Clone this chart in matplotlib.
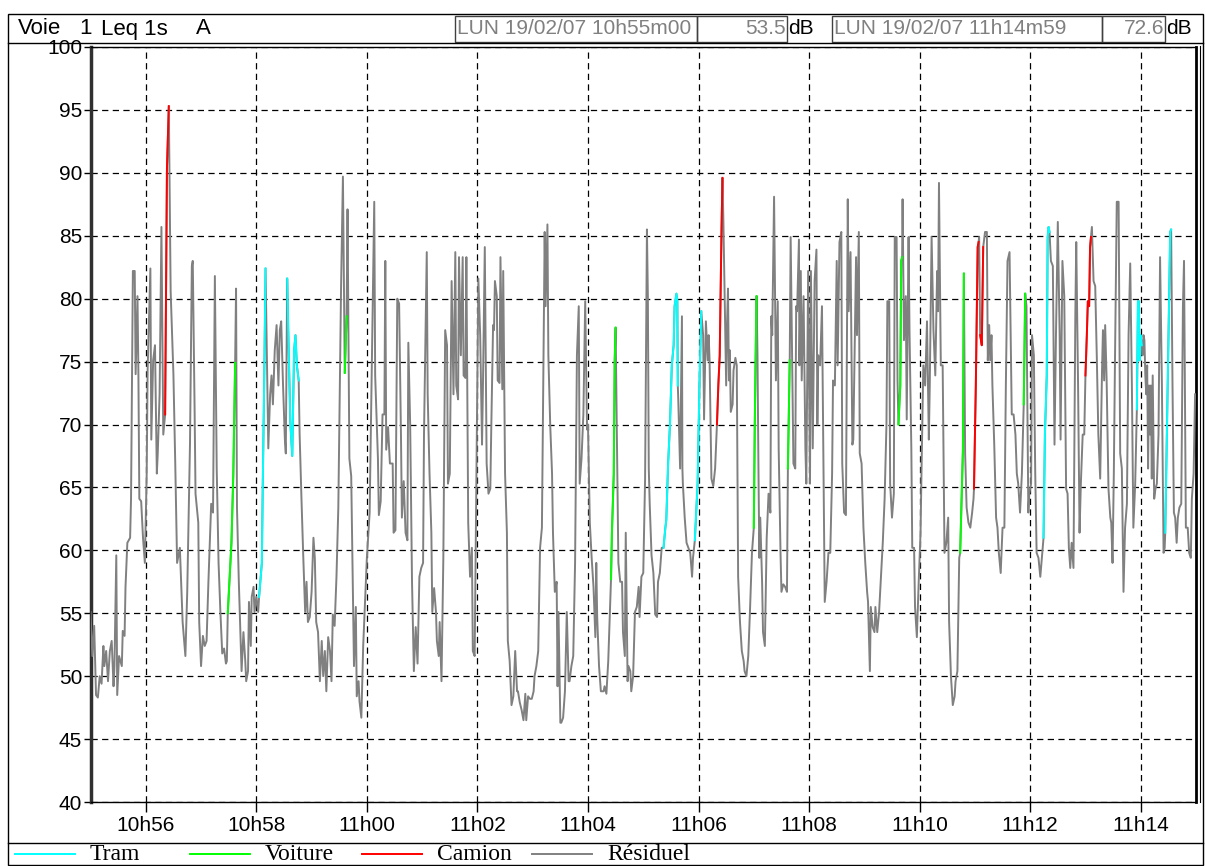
import numpy as np
import matplotlib.pyplot as plt
from matplotlib.lines import Line2D
from matplotlib.patches import Rectangle

plt.rcParams['font.family'] = ['Liberation Sans', 'DejaVu Sans']

W, H = 1206, 866

# Leq 1s (dB(A)), temps en secondes depuis 10h55m00
t_s = [0, 2, 4, 6, 8, 10, 12, 14, 15, 17, 19, 21, 23, 25, 26, 28, 29, 31, 34, 35,
       37, 38, 40, 43, 44, 46, 48, 49, 51, 52, 53, 55, 57, 59, 61, 62, 65, 66, 68, 70,
       72, 73, 75, 77, 79, 81, 83, 85, 87, 90, 92, 94, 97, 100, 103, 105, 108, 110, 111, 113,
       114, 117, 118, 120, 122, 124, 126, 128, 131, 133, 135, 137, 139, 141, 143, 145, 147, 148, 149, 153,
       155, 157, 158, 159, 161, 164, 166, 168, 169, 171, 172, 174, 175, 177, 178, 180, 182, 183, 186, 187,
       188.5, 190, 193, 195, 196.5, 198, 200, 202, 204, 205.5, 207, 209, 211, 212, 213.5, 215, 217, 219, 221, 222.5,
       224, 226, 227, 229, 231, 233, 234.5, 236, 238, 240, 242, 243.5, 245, 247, 249, 251, 252.6, 254.4, 256, 258,
       260, 261.6, 263, 265, 267, 269, 272, 274, 276, 278, 279, 281, 283, 285, 286, 288, 289, 291, 292, 294,
       296, 298, 300, 302, 303, 305, 308, 309, 312, 313, 315, 317, 319, 320, 321, 323, 325, 328, 329, 331,
       333, 335, 337, 338, 340, 342, 344, 345, 347, 349, 351, 353, 355, 357, 359, 361, 362, 365, 366, 368,
       370, 371, 373, 375, 376, 378, 379, 381, 383, 385, 387, 388, 390, 392, 394, 396, 397, 399, 400, 402,
       404, 405, 407, 408, 410, 412, 414, 415, 417, 419, 421, 423, 425, 426, 428, 430, 432, 434, 435, 437,
       438, 439, 441, 442, 444, 445, 447, 448, 450, 452, 453, 455, 457, 459, 461, 463, 464, 466, 468, 470,
       472, 473, 475, 477, 479, 481, 482, 484, 486, 488, 490, 492, 493, 494, 496, 497, 499, 501, 502, 504,
       506, 507, 508, 510, 511, 513, 515, 517, 519, 520, 522, 524, 526, 528, 530, 531, 533, 535, 537, 539,
       540, 542, 544, 546, 548, 549, 550, 552, 554, 557, 558, 560, 562, 565, 566, 568, 569, 570, 573, 575,
       577, 578, 580, 581, 583, 584, 586, 587, 589, 591, 593, 595, 596, 598, 600, 602, 604, 605, 606, 607,
       609, 611, 613, 615, 616, 618, 620, 622, 624, 625, 627, 629, 631, 633, 634, 636, 637, 637.5, 638, 640,
       642, 642.5, 643, 645, 647, 649, 651, 653, 654, 656, 659, 661, 663, 665, 666, 668, 670, 671, 672, 674,
       676, 678, 680, 681.5, 683, 685, 686, 687, 689, 690, 691, 692, 693, 694, 695, 697, 698, 700, 701.5, 703,
       705, 707, 709, 710, 712, 714, 716, 718, 720, 721, 722, 723, 724, 725, 726, 727, 729, 730, 732, 734,
       736, 738, 739, 740, 742, 744, 746, 747, 749, 750, 752, 754, 756, 757, 759, 760, 763, 765, 766, 767,
       769, 769.5, 771, 772, 774, 776, 777, 779, 781, 782, 784, 786, 788, 789, 790, 792, 794, 795.5, 797, 799,
       801, 803, 805, 806, 808, 810, 811, 813, 815, 816, 818, 820, 822, 823, 825, 827, 828, 831, 832, 834,
       835, 837, 839, 841, 843, 844, 846, 847, 849, 851, 852, 854, 856, 858, 860, 862, 864, 865, 867, 868,
       870, 872, 873, 875, 876, 877, 879, 880, 881, 881.5, 883, 885, 886, 888, 889, 891, 892, 894, 895, 897,
       899, 901, 902, 904, 906, 908, 910, 911, 913, 915, 917, 919, 920, 921, 923, 925, 927, 929, 931, 932,
       934, 936, 938, 939, 941, 943, 944, 946, 947, 948, 949.4, 951, 953, 955, 957, 958.5, 959, 961, 963, 964,
       964.6, 965.7, 967.5, 969, 971, 973, 974, 975.5, 976.6, 978, 979, 981, 983, 984.5, 986, 988, 990, 992, 993.6, 995.4,
       997.6, 1000, 1002, 1004, 1005.5, 1007, 1009, 1011, 1013, 1014, 1014.6, 1016, 1018, 1019, 1021, 1022, 1024, 1025.5, 1027, 1029,
       1031, 1032.7, 1034.5, 1036, 1038, 1039, 1040, 1041, 1042.5, 1044.6, 1046.4, 1048, 1050, 1052, 1053, 1055, 1057, 1059, 1060.6, 1062,
       1063.5, 1065, 1067, 1069, 1070, 1072, 1073.6, 1075, 1077, 1078.7, 1080, 1081.5, 1082.6, 1084, 1085, 1086, 1087, 1088.8, 1090.6, 1092.4,
       1094, 1096, 1098, 1099, 1100.3, 1101.4, 1103, 1105, 1107, 1108, 1109.4, 1110.8, 1112, 1114, 1116, 1117.7, 1119.5, 1121.3, 1123, 1125,
       1126.8, 1128.6, 1130.4, 1132, 1134, 1135.8, 1137, 1138, 1138.7, 1139.8, 1141.2, 1142, 1143, 1144, 1145, 1146, 1147, 1148, 1149, 1150,
       1151, 1152, 1153, 1154.6, 1156, 1157.5, 1159.3, 1161, 1163, 1164.8, 1166, 1166.6, 1168.4, 1170, 1172, 1173, 1174.5, 1176, 1177.4, 1179,
       1180.3, 1182, 1184, 1185.8, 1187, 1189, 1191, 1192.6, 1194.4, 1195.5, 1197.4, 1199]

leq = [55.1, 51.6, 54, 48.5, 48.3, 50, 49.4, 52.4, 50.8, 52, 49.6, 52, 52.8, 49.2, 50.8, 59.6, 48.5, 51.6, 50.8, 53.6,
       53.2, 57.1, 60.6, 61, 64.1, 82.2, 82.2, 74, 80.2, 74, 64.1, 63.9, 61, 59, 66.1, 74.3, 82.4, 68.8, 75.1, 76.3,
       66.1, 67.7, 72.4, 85.7, 69.2, 70.8, 90.4, 95.3, 80.6, 74, 66.9, 59, 60.2, 54.3, 51.6, 56.7, 68.5, 82.6, 83, 71.2,
       64.5, 62.2, 54.3, 50.8, 53.2, 52.4, 52.8, 57.5, 63.7, 63, 81.8, 66.5, 59, 55.1, 51.8, 52.2, 51, 51.2, 55, 60.6,
       66, 74.9, 80.8, 63.4, 57.5, 50.4, 53.5, 51.2, 49.6, 50.4, 55.9, 52.4, 56.3, 57.1, 55.1, 56.3, 55.1, 56.3, 59, 65.3,
       73.2, 82.4, 68.1, 72.4, 73.9, 71.6, 75.9, 77.9, 73.1, 77.5, 78.2, 73.1, 68.8, 67.7, 81.6, 76.3, 70, 67.5, 75.9, 77.1,
       74.7, 73.5, 69.2, 64.1, 59.4, 55.1, 57.5, 54.3, 54.7, 56.7, 61, 59.4, 54.3, 53.5, 49.6, 52.8, 50, 52, 48.8, 53.1,
       52, 49.6, 54.9, 54, 57.9, 63.4, 81, 89.7, 74.1, 78.6, 87.1, 67.3, 65.9, 55.7, 50.8, 55.5, 48.4, 49.6, 48, 46.7,
       52.4, 55.9, 59.4, 61.8, 63, 73.1, 87.7, 73.9, 67.3, 62.8, 63.9, 70.8, 70.8, 83, 68, 69.8, 66.9, 66.9, 61.4, 61.6,
       80, 79.6, 69.2, 62.6, 65.5, 61.4, 60.8, 76.5, 70, 57.5, 50.4, 53.9, 51, 57.9, 58.6, 59, 69.2, 83.7, 72.4, 66.1,
       61.4, 55.1, 57, 55.1, 52.8, 51.6, 54.3, 49.6, 59.4, 77.5, 76.3, 65.3, 66.1, 81.4, 72.4, 83.7, 73.1, 72, 83.3, 75.5,
       83.3, 73.9, 73.7, 83.3, 62.2, 57.9, 60.2, 52, 51.6, 66.5, 81.6, 77.1, 68.4, 73.1, 84.1, 66.9, 64.5, 64.9, 69.6, 77.9,
       77.5, 81.4, 80.2, 73.5, 73.3, 83.3, 72.8, 82.2, 66.1, 61.4, 52.8, 51.2, 47.7, 48.4, 52, 48.8, 48.8, 47.9, 47.3, 46.5,
       48.6, 46.5, 48.4, 48.2, 48.2, 48.8, 50, 50.8, 52, 60.2, 61.8, 77.1, 85.3, 79.4, 85.9, 75.5, 70, 66.1, 61.4, 56.7,
       57.5, 49.2, 55.1, 46.3, 46.3, 46.7, 48.8, 55.1, 49.6, 49.6, 50.8, 51.6, 59, 75.5, 79.4, 65.3, 67.3, 70.8, 79.8, 69.6,
       70, 62.2, 59.4, 57.1, 53.1, 59, 54.7, 50.8, 48.8, 48.8, 49.2, 48.6, 51.2, 57.7, 61.4, 66.1, 75.1, 77.7, 59, 57.5,
       57.5, 53.5, 51.6, 61.4, 49.6, 50.8, 50.4, 48.8, 50, 55.1, 55.5, 57.1, 54.7, 57.9, 58.2, 65.7, 85.5, 80.2, 66.5, 63.7,
       59.6, 58.2, 54.9, 54.7, 57.5, 58.2, 60.2, 60.2, 61.8, 62.4, 66.9, 70, 74.7, 76.3, 79.4, 80.4, 79.8, 73.1, 72, 66.5,
       78.6, 66.5, 65.3, 62.6, 60.6, 60.2, 59.8, 57.9, 59.4, 60.8, 65.3, 73.1, 79, 77.1, 70.4, 78.2, 75.1, 77.1, 75.1, 65.7,
       65.1, 66.5, 70, 73.1, 75.5, 85.7, 89.6, 86.1, 77.1, 73.1, 78.2, 80.8, 73.5, 75.9, 71, 71.6, 74.3, 75.3, 74.7, 57.9,
       54.3, 52, 51.2, 50.4, 50, 51.6, 55.5, 59.8, 61.8, 69.6, 75.5, 80.2, 75.5, 66.9, 59.4, 62.6, 57.5, 53.5, 52.4, 61,
       64.5, 63, 78.6, 77.1, 88.1, 73.5, 79.8, 68.1, 59.8, 56.7, 57.3, 57.1, 56.7, 66.5, 75.1, 84.9, 66.9, 66.5, 79.4, 79,
       84.7, 74.7, 82.2, 73.5, 80.2, 68.1, 65.3, 82.2, 65.3, 82.2, 68.1, 81.4, 83.9, 70, 75.5, 74.7, 79.4, 67.3, 55.9, 57.5,
       59.8, 59.8, 66.1, 73.5, 73.1, 83, 74.7, 84.5, 85.3, 66.9, 63, 62.8, 87.9, 79, 83.7, 68.4, 68.8, 83.3, 77.1, 85.3,
       67.7, 66.9, 61.8, 59, 56.7, 55.9, 50.4, 55.5, 53.9, 53.5, 55.5, 53.5, 55.1, 57.9, 60.6, 64.1, 70, 79.8, 79.8, 65.3,
       62.6, 64.5, 84.9, 84.9, 73.5, 70, 73.1, 83, 83.3, 87.9, 76.7, 80.2, 70.4, 84.9, 77.5, 68.1, 60.2, 60.2, 55.5, 53.1,
       57.5, 61.4, 66.1, 74.7, 73.1, 78.2, 68.8, 73.1, 84.9, 77.5, 73.9, 82.2, 79, 89.2, 74.7, 74.7, 59.8, 60.6, 62.6, 54.3,
       50, 47.7, 48.4, 49.6, 50.4, 59.4, 59.8, 65.3, 68, 82, 67.7, 63.4, 62.2, 61.8, 63, 64.1, 64.9, 73.1, 84.1, 84.5,
       84.9, 77.1, 76.3, 84.1, 85.3, 85.3, 75.1, 77.9, 75.1, 77.1, 73.1, 68.4, 62.6, 61.8, 59.8, 58.2, 61.8, 61.8, 73.1, 83,
       83.7, 70.8, 70.8, 69.2, 66.1, 65.3, 63, 66.1, 71.6, 77.1, 80.4, 79.4, 63, 64.5, 65.3, 77.1, 75.5, 66.1, 59.8, 59.4,
       57.9, 59.4, 61, 69.2, 73.9, 84.9, 85.7, 85.3, 83, 82.6, 68.4, 77.1, 86.1, 77.1, 68.8, 83, 80.2, 64.9, 64.5, 60.2,
       58.6, 60.6, 58.6, 78.6, 84.5, 73.1, 61.4, 65.3, 69.2, 69.2, 73.9, 77.1, 79.8, 79.4, 84.1, 84.9, 85.7, 81.4, 81, 75.1,
       69.2, 65.7, 74.3, 77.5, 73.5, 77.9, 73.5, 64.9, 62.6, 62.2, 59, 66.1, 74.7, 87.7, 87.7, 67.7, 66.5, 56.7, 61.8, 63.7,
       77.1, 82.8, 73.1, 61.8, 65.3, 71.2, 79.8, 79.8, 75.1, 77.1, 76.3, 75.5, 77.1, 76.7, 73.9, 72.4, 74.7, 66.5, 73.1, 69.2,
       73.1, 65.7, 73.9, 64.1, 64.9, 65.3, 69.2, 83.3, 73.1, 59.8, 60.2, 61.4, 69.2, 76.3, 85.3, 85.5, 73.1, 63, 62.6, 60.6,
       62.6, 63.4, 63.7, 79.4, 83, 61.8, 61.8, 59.8, 59.4, 64.1, 66.1, 72.4]

# evenements identifies : (source, debut, fin) en secondes
evenements = [("Camion", 81, 85), ("Voiture", 149, 157), ("Tram", 183, 190),
              ("Tram", 213.5, 226), ("Voiture", 276, 278), ("Voiture", 565, 570),
              ("Tram", 622, 637.5), ("Tram", 656, 663), ("Camion", 680, 686),
              ("Voiture", 720, 723), ("Voiture", 757, 759), ("Voiture", 877, 881),
              ("Voiture", 944, 948), ("Camion", 959, 964), ("Camion", 965.7, 969),
              ("Voiture", 1013, 1014.6), ("Tram", 1034.5, 1041), ("Camion", 1080, 1086),
              ("Tram", 1135.8, 1141.2), ("Tram", 1166.6, 1173)]

sources = ["Tram", "Voiture", "Camion", "Résiduel"]
couleurs = {"Tram": "#00ffff", "Voiture": "#00ff00", "Camion": "#ff0000", "Résiduel": "#808080"}

tick_s = [60, 180, 300, 420, 540, 660, 780, 900, 1020, 1140]
tick_lab = ["10h56", "10h58", "11h00", "11h02", "11h04", "11h06", "11h08", "11h10", "11h12", "11h14"]
y_ticks = [40, 45, 50, 55, 60, 65, 70, 75, 80, 85, 90, 95, 100]


def fx(x):
    return x / W


def fy(y):
    return 1 - y / H


fig = plt.figure(figsize=(W / 100, H / 100), dpi=100)
ax = fig.add_axes([fx(90.5), fy(802), fx(1196) - fx(90.5), fy(47) - fy(802)])

t = np.array(t_s)
v = np.array(leq)
ax.plot(t, v, color=couleurs["Résiduel"], lw=1.4, zorder=3)
for src, a, b in evenements:
    m = (t >= a - 1e-6) & (t <= b + 1e-6)
    ax.plot(t[m], v[m], color=couleurs[src], lw=1.4, zorder=4)

ax.set_xlim(0, 1200)
ax.set_ylim(40, 100)
ax.set_xticks(tick_s)
ax.set_xticklabels(tick_lab)
ax.set_yticks(y_ticks)
ax.tick_params(axis='both', labelsize=15, direction='out', colors='black')
ax.tick_params(axis='x', length=7, width=1, pad=3)
ax.tick_params(axis='y', length=5, width=1, pad=1)
ax.grid(True, color='black', linestyle=(0, (5, 3.5)), linewidth=0.9)
ax.set_axisbelow(True)
ax.spines['left'].set_linewidth(2.5)
ax.spines['left'].set_color('#303030')
ax.spines['right'].set_linewidth(2)
ax.spines['top'].set_linewidth(1)
ax.spines['bottom'].set_linewidth(1)

# cadre exterieur, bandeau et legende
fig.add_artist(Rectangle((fx(8), fy(865)), fx(1203) - fx(8), fy(14) - fy(865),
                         fill=False, lw=1, ec='black'))
fig.add_artist(Line2D([fx(8), fx(1203)], [fy(43), fy(43)], lw=1, color='black'))
fig.add_artist(Line2D([fx(1200), fx(1200)], [fy(46), fy(802)], lw=0.8, color='black'))
fig.add_artist(Line2D([fx(8), fx(1203)], [fy(843), fy(843)], lw=1, color='black'))

for xt, txt in [(18, "Voie"), (79, "1"), (101, "Leq 1s"), (196, "A")]:
    fig.text(fx(xt), fy(29), txt, fontsize=16, va='center', ha='left')

boites = [(455, 697, "LUN 19/02/07 10h55m00", 'left'),
          (697, 787, "53.5", 'right'),
          (832, 1102, "LUN 19/02/07 11h14m59", 'left'),
          (1102, 1165, "72.6", 'right')]
for x0, x1, txt, al in boites:
    fig.add_artist(Rectangle((fx(x0), fy(42)), fx(x1) - fx(x0), fy(16) - fy(42),
                             fill=False, lw=1, ec='#404040'))
    xt = x0 + 2 if al == 'left' else x1 - 1
    fig.text(fx(xt), fy(29), txt, fontsize=15, va='center', ha=al, color='#808080')
fig.text(fx(788), fy(29), "dB", fontsize=15, va='center', ha='left')
fig.text(fx(1166), fy(29), "dB", fontsize=15, va='center', ha='left')

leg_x = [15, 190, 362, 532]
for x0, src in zip(leg_x, sources):
    fig.add_artist(Line2D([fx(x0), fx(x0 + 60)], [fy(854), fy(854)], lw=1.4, color=couleurs[src]))
    fig.text(fx(x0 + 75), fy(855), src, fontsize=17, va='center', ha='left',
             family=['Liberation Serif', 'DejaVu Serif'])

fig.savefig("out.png", dpi=100)
